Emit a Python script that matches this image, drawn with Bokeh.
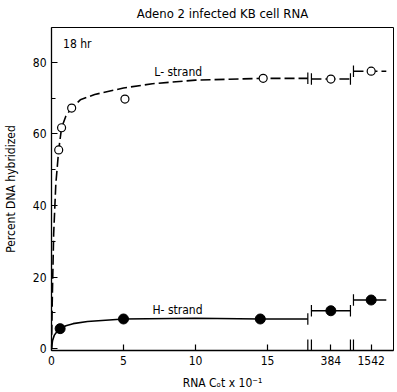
import numpy as np
from bokeh.plotting import figure
from bokeh.models import FixedTicker, Range1d
from bokeh.embed import file_html
from bokeh.resources import INLINE
from bokeh.core.properties import value

FONT = "'Liberation Sans Narrow', 'DejaVu Sans Condensed', sans-serif"

# ---------------- data ----------------
# linear part of the Cot axis (RNA Cot x 10^-1)
l_cot = [0.5, 0.7, 1.4, 5.1, 14.7]
l_pct = [55.5, 61.7, 67.2, 69.7, 75.5]
h_cot = [0.6, 5.0, 14.5]
h_pct = [5.6, 8.3, 8.3]

# points on the broken part of the axis
break_cots = [384, 1542]
l_pct_break = [75.3, 77.5]
h_pct_break = [10.6, 13.6]

# fitted curves on the linear part
l_curve_cot = [0, 0.06, 0.15, 0.3, 0.5, 0.7, 1.0, 1.4, 2.0, 3.0, 5.0, 7.0, 10.0, 14.7, 17.8]
l_curve_pct = [0, 15, 32, 46, 55.5, 61.7, 65.0, 67.2, 69.5, 71.0, 72.8, 74.0, 75.0, 75.5, 75.5]
h_curve_cot = [0, 0.07, 0.2, 0.4, 0.6, 1.0, 1.5, 2.5, 5.0, 10.0, 14.5, 17.8]
h_curve_pct = [0, 2.2, 3.8, 4.9, 5.6, 6.4, 7.0, 7.6, 8.3, 8.5, 8.3, 8.3]

x_tick_vals = [0, 5, 10, 15]
y_tick_vals = [0, 20, 40, 60, 80]
y_minor_vals = [10, 30, 50, 70]

TITLE = "Adeno 2 infected KB cell RNA"

# ---------------- broken-axis layout ----------------
SEG1_END = 17.8
SEG_BOUNDS = [(18.05, 20.76), (20.97, 23.25)]   # drawn extent of each broken segment
SEG_AXIS = [(18.05, 20.76), (20.97, 23.75)]
SEG_POINT_POS = [19.4, 22.2]                      # where 384 and 1542 sit
X_MAX, Y_MIN, Y_MAX = 23.75, -0.5, 89.7

p = figure(width=397, height=392, output_backend="svg", toolbar_location=None,
           x_range=Range1d(0, X_MAX), y_range=Range1d(Y_MIN, Y_MAX),
           min_border_left=51, min_border_right=4, min_border_top=27, min_border_bottom=40,
           title=TITLE)
p.background_fill_color = "white"
p.border_fill_color = "white"
p.grid.visible = False
p.outline_line_color = "black"
p.outline_line_width = 1

p.title.align = "center"
p.title.vertical_align = "top"
p.title.text_font = FONT
p.title.text_font_size = "13px"
p.title.text_font_style = "normal"
p.title.text_color = "black"
p.title.offset = 0

# axes
for ax in (p.xaxis[0], p.yaxis[0]):
    ax.major_tick_in = 6
    ax.major_tick_out = 0
    ax.minor_tick_in = 4
    ax.minor_tick_out = 0
    ax.axis_line_width = 1.3
    ax.major_tick_line_width = 1.2
    ax.major_label_text_font = FONT
    ax.major_label_text_font_size = "12px"
    ax.major_label_text_color = "black"
    ax.axis_label_text_font = FONT
    ax.axis_label_text_font_size = "12px"
    ax.axis_label_text_font_style = "normal"
    ax.axis_label_text_color = "black"

p.yaxis[0].ticker = FixedTicker(ticks=y_tick_vals, minor_ticks=y_minor_vals)
p.yaxis[0].axis_label = "Percent DNA hybridized"
p.yaxis[0].major_label_standoff = 5
p.yaxis[0].axis_label_standoff = 12

xt = x_tick_vals + SEG_POINT_POS
p.xaxis[0].ticker = FixedTicker(ticks=xt, minor_ticks=[])
p.xaxis[0].major_label_overrides = {SEG_POINT_POS[i]: str(c) for i, c in enumerate(break_cots)}
p.xaxis[0].axis_label = "RNA C\u2092t x 10\u207b\u00b9"
p.xaxis[0].major_label_standoff = 5
p.xaxis[0].axis_label_standoff = 8

# ---------------- curves ----------------
LW = 1.6
p.line(l_curve_cot, l_curve_pct, line_color="black", line_width=LW, line_dash="10 4")
p.line(h_curve_cot, h_curve_pct, line_color="black", line_width=LW)

for (x0, x1), lv, hv in zip(SEG_BOUNDS, l_pct_break, h_pct_break):
    p.line([x0, x1], [lv, lv], line_color="black", line_width=LW, line_dash="10 4")
    p.line([x0, x1], [hv, hv], line_color="black", line_width=LW)

# break marks on the curves
tick_h = 1.6
seg_starts = [b[0] for b in SEG_BOUNDS]
seg_ends_prev = [SEG1_END, SEG_BOUNDS[0][1]]
prev_l = [l_curve_pct[-1], l_pct_break[0]]
prev_h = [h_curve_pct[-1], h_pct_break[0]]
bx, by0, by1 = [], [], []
for xe, pl, ph, xs, nl, nh in zip(seg_ends_prev, prev_l, prev_h, seg_starts, l_pct_break, h_pct_break):
    for xv, yv in ((xe, pl), (xe, ph), (xs, nl), (xs, nh)):
        bx.append(xv); by0.append(yv - tick_h); by1.append(yv + tick_h)
# break marks on the x axis
for xv in [SEG1_END, SEG_AXIS[0][0], SEG_AXIS[0][1], SEG_AXIS[1][0]]:
    bx.append(xv); by0.append(Y_MIN); by1.append(2.6)
p.segment(x0=bx, y0=by0, x1=bx, y1=by1, line_color="black", line_width=1.2)

# ---------------- points ----------------
p.scatter(l_cot + SEG_POINT_POS, l_pct + l_pct_break, size=8, marker="circle",
          fill_color="white", line_color="black", line_width=1.2)
p.scatter(h_cot + SEG_POINT_POS, h_pct + h_pct_break, size=10, marker="circle",
          fill_color="black", line_color="black")

# ---------------- annotations ----------------
p.text(x=[8.8], y=[77.2], text=["L- strand"], text_font=value(FONT), text_font_size="12px",
       text_align="center", text_baseline="middle", text_color="black")
p.text(x=[8.75], y=[10.9], text=["H- strand"], text_font=value(FONT), text_font_size="12px",
       text_align="center", text_baseline="middle", text_color="black")
p.text(x=[0.8], y=[85.2], text=["18 hr"], text_font=value(FONT), text_font_size="12px",
       text_align="left", text_baseline="middle", text_color="black")

open("out.html", "w").write(file_html(p, INLINE))
